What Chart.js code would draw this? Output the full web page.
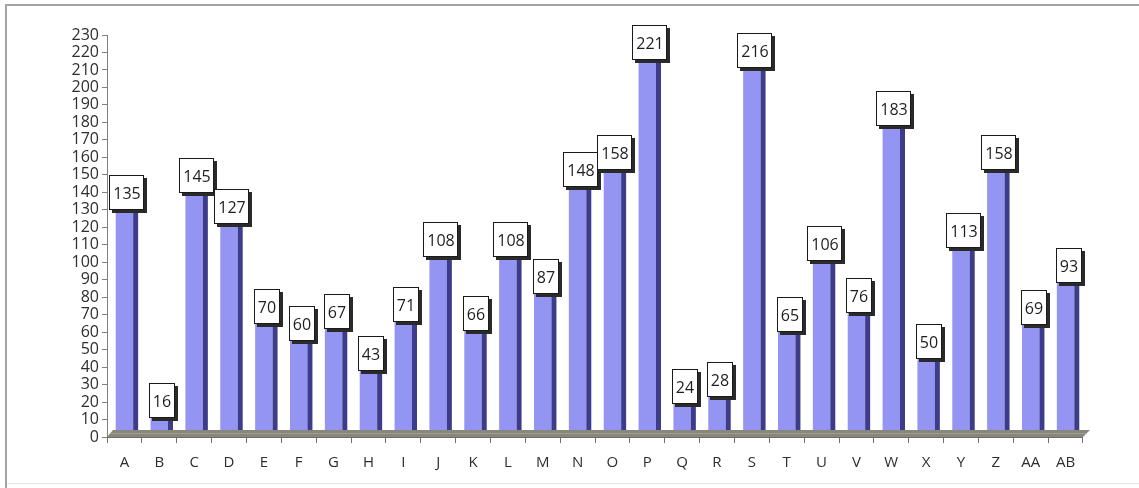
<!DOCTYPE html>
<html>
<head>
<meta charset="utf-8">
<script src="https://cdn.jsdelivr.net/npm/chart.js@4/dist/chart.umd.min.js"></script>
<style>
  html, body { margin: 0; padding: 0; background: #ffffff; }
  #wrap { position: relative; width: 1139px; height: 488px; }
  canvas { display: block; }
</style>
</head>
<body>
<div id="wrap"><canvas id="c" width="1139" height="488"></canvas></div>
<script>
const categories = ['A','B','C','D','E','F','G','H','I','J','K','L','M','N','O','P','Q','R','S','T','U','V','W','X','Y','Z','AA','AB'];
const values = [135,16,145,127,70,60,67,43,71,108,66,108,87,148,158,221,24,28,216,65,106,76,183,50,113,158,69,93];
const yMin = 0;
const yMax = 230;
const yStep = 10;

const FONT = '"Open Sans", "Liberation Sans", sans-serif';
const DEPTH_X = 5, DEPTH_Y = 6;

const framePlugin = {
  id: 'frame',
  beforeDraw(chart) {
    const ctx = chart.ctx;
    ctx.save();
    ctx.fillStyle = '#ffffff';
    ctx.fillRect(0, 0, chart.width, chart.height);
    ctx.fillStyle = '#a3a3a3';
    ctx.fillRect(5, 4, chart.width - 5, 2);
    ctx.fillRect(5, 4, 2, chart.height - 4);
    ctx.fillStyle = '#e6e6e6';
    ctx.fillRect(7, 483, chart.width - 7, 1);
    ctx.restore();
  }
};

const bar3dPlugin = {
  id: 'bar3d',
  afterDatasetsDraw(chart) {
    const ctx = chart.ctx;
    const meta = chart.getDatasetMeta(0);
    const xs = chart.scales.x, ys = chart.scales.y;
    ctx.save();
    meta.data.forEach(el => {
      const p = el.getProps(['x', 'y', 'base', 'width'], true);
      const l = p.x - p.width / 2, r = p.x + p.width / 2;
      ctx.fillStyle = '#3c3c8a';
      ctx.beginPath();
      ctx.moveTo(r, p.y);
      ctx.lineTo(r + DEPTH_X, p.y - DEPTH_Y);
      ctx.lineTo(r + DEPTH_X, p.base - DEPTH_Y);
      ctx.lineTo(r, p.base);
      ctx.closePath();
      ctx.fill();
      ctx.fillStyle = '#b4b4ff';
      ctx.beginPath();
      ctx.moveTo(l, p.y);
      ctx.lineTo(r, p.y);
      ctx.lineTo(r + DEPTH_X, p.y - DEPTH_Y);
      ctx.lineTo(l + DEPTH_X, p.y - DEPTH_Y);
      ctx.closePath();
      ctx.fill();
    });
    const y0 = ys.getPixelForValue(0);
    const fl = xs.left, fr = xs.right;
    ctx.fillStyle = '#87877c';
    ctx.beginPath();
    ctx.moveTo(fl, y0);
    ctx.lineTo(fr, y0);
    ctx.lineTo(fr + DEPTH_X + 2, y0 - DEPTH_Y - 1);
    ctx.lineTo(fl + DEPTH_X + 1, y0 - DEPTH_Y - 1);
    ctx.closePath();
    ctx.fill();
    ctx.fillStyle = '#9d9d92';
    ctx.fillRect(fl + 3, y0 - 4, fr - fl, 1);
    ctx.strokeStyle = '#6c6c6c';
    ctx.lineWidth = 1;
    ctx.beginPath();
    ctx.moveTo(fl, y0 + 0.5);
    ctx.lineTo(fr, y0 + 0.5);
    ctx.stroke();
    ctx.font = '16px ' + FONT;
    ctx.textAlign = 'center';
    ctx.textBaseline = 'middle';
    meta.data.forEach((el, i) => {
      const p = el.getProps(['x', 'y'], true);
      const txt = String(values[i]);
      const tw = ctx.measureText(txt).width;
      const bw = Math.round(tw + 8), bh = 35;
      const cx = Math.round(p.x + 3), cy = Math.round(p.y - 8);
      const bx = cx - Math.round(bw / 2), by = cy - Math.round(bh / 2);
      ctx.fillStyle = '#2a2a2a';
      ctx.fillRect(bx + 3, by + 3, bw, bh);
      ctx.fillStyle = '#ffffff';
      ctx.fillRect(bx, by, bw, bh);
      ctx.strokeStyle = '#1a1a1a';
      ctx.lineWidth = 1;
      ctx.strokeRect(bx + 0.5, by + 0.5, bw - 1, bh - 1);
      ctx.fillStyle = '#1e1e1e';
      ctx.fillText(txt, cx, cy + 1);
    });
    ctx.restore();
  }
};

new Chart(document.getElementById('c'), {
  type: 'bar',
  data: {
    labels: categories,
    datasets: [{
      data: values,
      backgroundColor: '#9494f2',
      borderWidth: 0,
      categoryPercentage: 1.0,
      barPercentage: 0.5
    }]
  },
  options: {
    responsive: false,
    animation: false,
    events: [],
    layout: { padding: { left: 0, right: 56, top: 35, bottom: 0 } },
    plugins: { legend: { display: false }, tooltip: { enabled: false } },
    scales: {
      x: {
        offset: true,
        border: { display: false },
        grid: { display: true, drawOnChartArea: false, drawTicks: true, tickLength: 6, color: '#707070', offset: true },
        ticks: { color: '#2e2e2e', font: { family: FONT, size: 15 }, padding: 11, maxRotation: 0, autoSkip: false },
        afterFit(s) { s.height = 51; }
      },
      y: {
        min: yMin,
        max: yMax,
        border: { display: true, color: '#808080' },
        grid: { display: true, drawOnChartArea: false, drawTicks: true, tickLength: 5, color: '#808080' },
        ticks: { stepSize: yStep, color: '#2e2e2e', font: { family: FONT, size: 16 }, padding: 3, autoSkip: false },
        afterFit(s) { s.width = 107; }
      }
    }
  },
  plugins: [framePlugin, bar3dPlugin]
});
</script>
</body>
</html>
